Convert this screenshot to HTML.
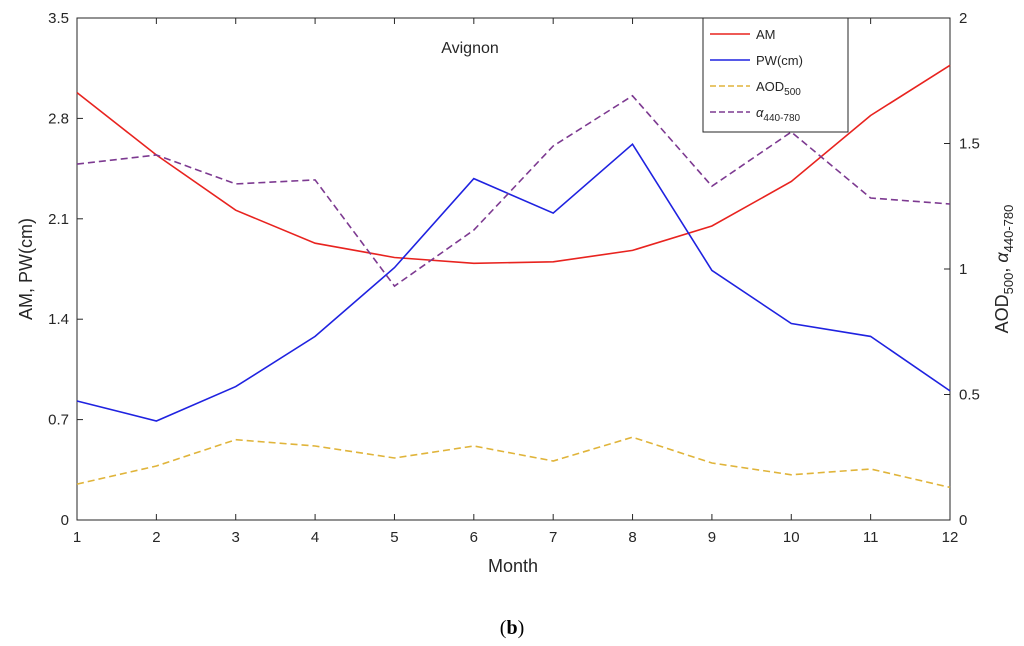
<!DOCTYPE html>
<html><head><meta charset="utf-8"><style>
html,body{margin:0;padding:0;background:#fff;width:1024px;height:646px;overflow:hidden}
svg text{font-family:"Liberation Sans",sans-serif;fill:#262626}
</style></head><body>
<svg id="chart" width="1024" height="646" xmlns="http://www.w3.org/2000/svg"></svg>
<script>
const months=[1,2,3,4,5,6,7,8,9,10,11,12];
const amValues=[2.98,2.545,2.16,1.93,1.83,1.79,1.80,1.88,2.05,2.36,2.82,3.17];
const pwValues=[0.83,0.69,0.93,1.28,1.76,2.38,2.14,2.62,1.74,1.37,1.28,0.90];
const aodValues=[0.143,0.215,0.32,0.295,0.247,0.295,0.235,0.33,0.227,0.18,0.203,0.13];
const alphaValues=[1.418,1.454,1.339,1.355,0.932,1.155,1.49,1.69,1.33,1.546,1.283,1.259];
const leftTicks=[0,0.7,1.4,2.1,2.8,3.5];
const leftTickLabels=["0","0.7","1.4","2.1","2.8","3.5"];
const rightTicks=[0,0.5,1,1.5,2];
const rightTickLabels=["0","0.5","1","1.5","2"];

const svg=document.getElementById('chart');
const NS='http://www.w3.org/2000/svg';
const L=77,R=950,T=18,B=520;
const xS=m=>L+(m-1)*(R-L)/11;
const yL=v=>B-v*(B-T)/3.5;
const yR=v=>B-v*(B-T)/2;
function mk(tag,attrs,parent){const e=document.createElementNS(NS,tag);for(const k in attrs)e.setAttribute(k,attrs[k]);(parent||svg).appendChild(e);return e;}

const frame=mk('rect',{x:L,y:T,width:R-L,height:B-T,fill:'none',stroke:'#262626','stroke-width':1});



months.forEach(m=>{
  const x=xS(m);
  const t=mk('line',{x1:x,x2:x,y1:B,y2:B-6,stroke:'#262626'});
  
  
  mk('line',{x1:x,x2:x,y1:T,y2:T+6,stroke:'#262626'});
  const lb=mk('text',{x:x,y:B+22,'text-anchor':'middle','font-size':15});
  lb.textContent=m;
  
  
});
leftTicks.forEach((v,i)=>{
  const y=yL(v);
  mk('line',{x1:L,x2:L+6,y1:y,y2:y,stroke:'#262626'});
  const lb=mk('text',{x:L-8,y:y+5,'text-anchor':'end','font-size':15});
  lb.textContent=leftTickLabels[i];
  
  
});
rightTicks.forEach((v,i)=>{
  const y=yR(v);
  mk('line',{x1:R,x2:R-6,y1:y,y2:y,stroke:'#262626'});
  const lb=mk('text',{x:R+9,y:y+5,'text-anchor':'start','font-size':15});
  lb.textContent=rightTickLabels[i];
  
  
});

function series(vals,yf,color,dash,name){
  const d=vals.map((v,i)=>(i?'L':'M')+xS(months[i]).toFixed(1)+','+yf(v).toFixed(1)).join(' ');
  const p=mk('path',{d:d,fill:'none',stroke:color,'stroke-width':1.6});
  if(dash)p.setAttribute('stroke-dasharray',dash);
  
  
}
series(amValues,yL,'#e8231f',null,'am-line');
series(pwValues,yL,'#1f22e0',null,'pw-line');
series(aodValues,yR,'#e0b43a','7,4','aod500-line');
series(alphaValues,yR,'#7d3a91','7,4','alpha-line');

const title=mk('text',{x:470,y:53,'text-anchor':'middle','font-size':16});
title.textContent='Avignon';



const xt=mk('text',{x:513,y:572,'text-anchor':'middle','font-size':18});
xt.textContent='Month';



const yt=mk('text',{transform:'translate(32,269) rotate(-90)','text-anchor':'middle','font-size':18});
yt.textContent='AM, PW(cm)';



const yt2=mk('text',{transform:'translate(1008,269) rotate(-90)','text-anchor':'middle','font-size':18});
yt2.innerHTML='AOD<tspan font-size="13" dy="5">500</tspan><tspan dy="-5">, </tspan><tspan font-style="italic">α</tspan><tspan font-size="13" dy="5">440-780</tspan>';



const lg=mk('g',{});


mk('rect',{x:703,y:18,width:145,height:114,fill:'#fff',stroke:'#262626','stroke-width':1},lg);
const items=[['AM','#e8231f',null],['PW(cm)','#1f22e0',null],['AOD<tspan font-size="10" dy="4">500</tspan>','#e0b43a','6,3'],['<tspan font-style="italic">α</tspan><tspan font-size="10" dy="4">440-780</tspan>','#7d3a91','6,3']];
items.forEach((it,i)=>{
  const y=34+i*26;
  const ln=mk('line',{x1:710,x2:750,y1:y,y2:y,stroke:it[1],'stroke-width':1.6},lg);
  if(it[2])ln.setAttribute('stroke-dasharray',it[2]);
  
  
  const t=mk('text',{x:756,y:y+5,'font-size':13},lg);
  t.innerHTML=it[0];
  
  
});

const cap=mk('text',{x:512,y:634,'text-anchor':'middle','font-size':20,'font-family':'Liberation Serif, serif'});
cap.innerHTML='(<tspan font-weight="bold">b</tspan>)';
cap.setAttribute('style','font-family:"Liberation Serif",serif;fill:#000');


</script>
</body></html>
